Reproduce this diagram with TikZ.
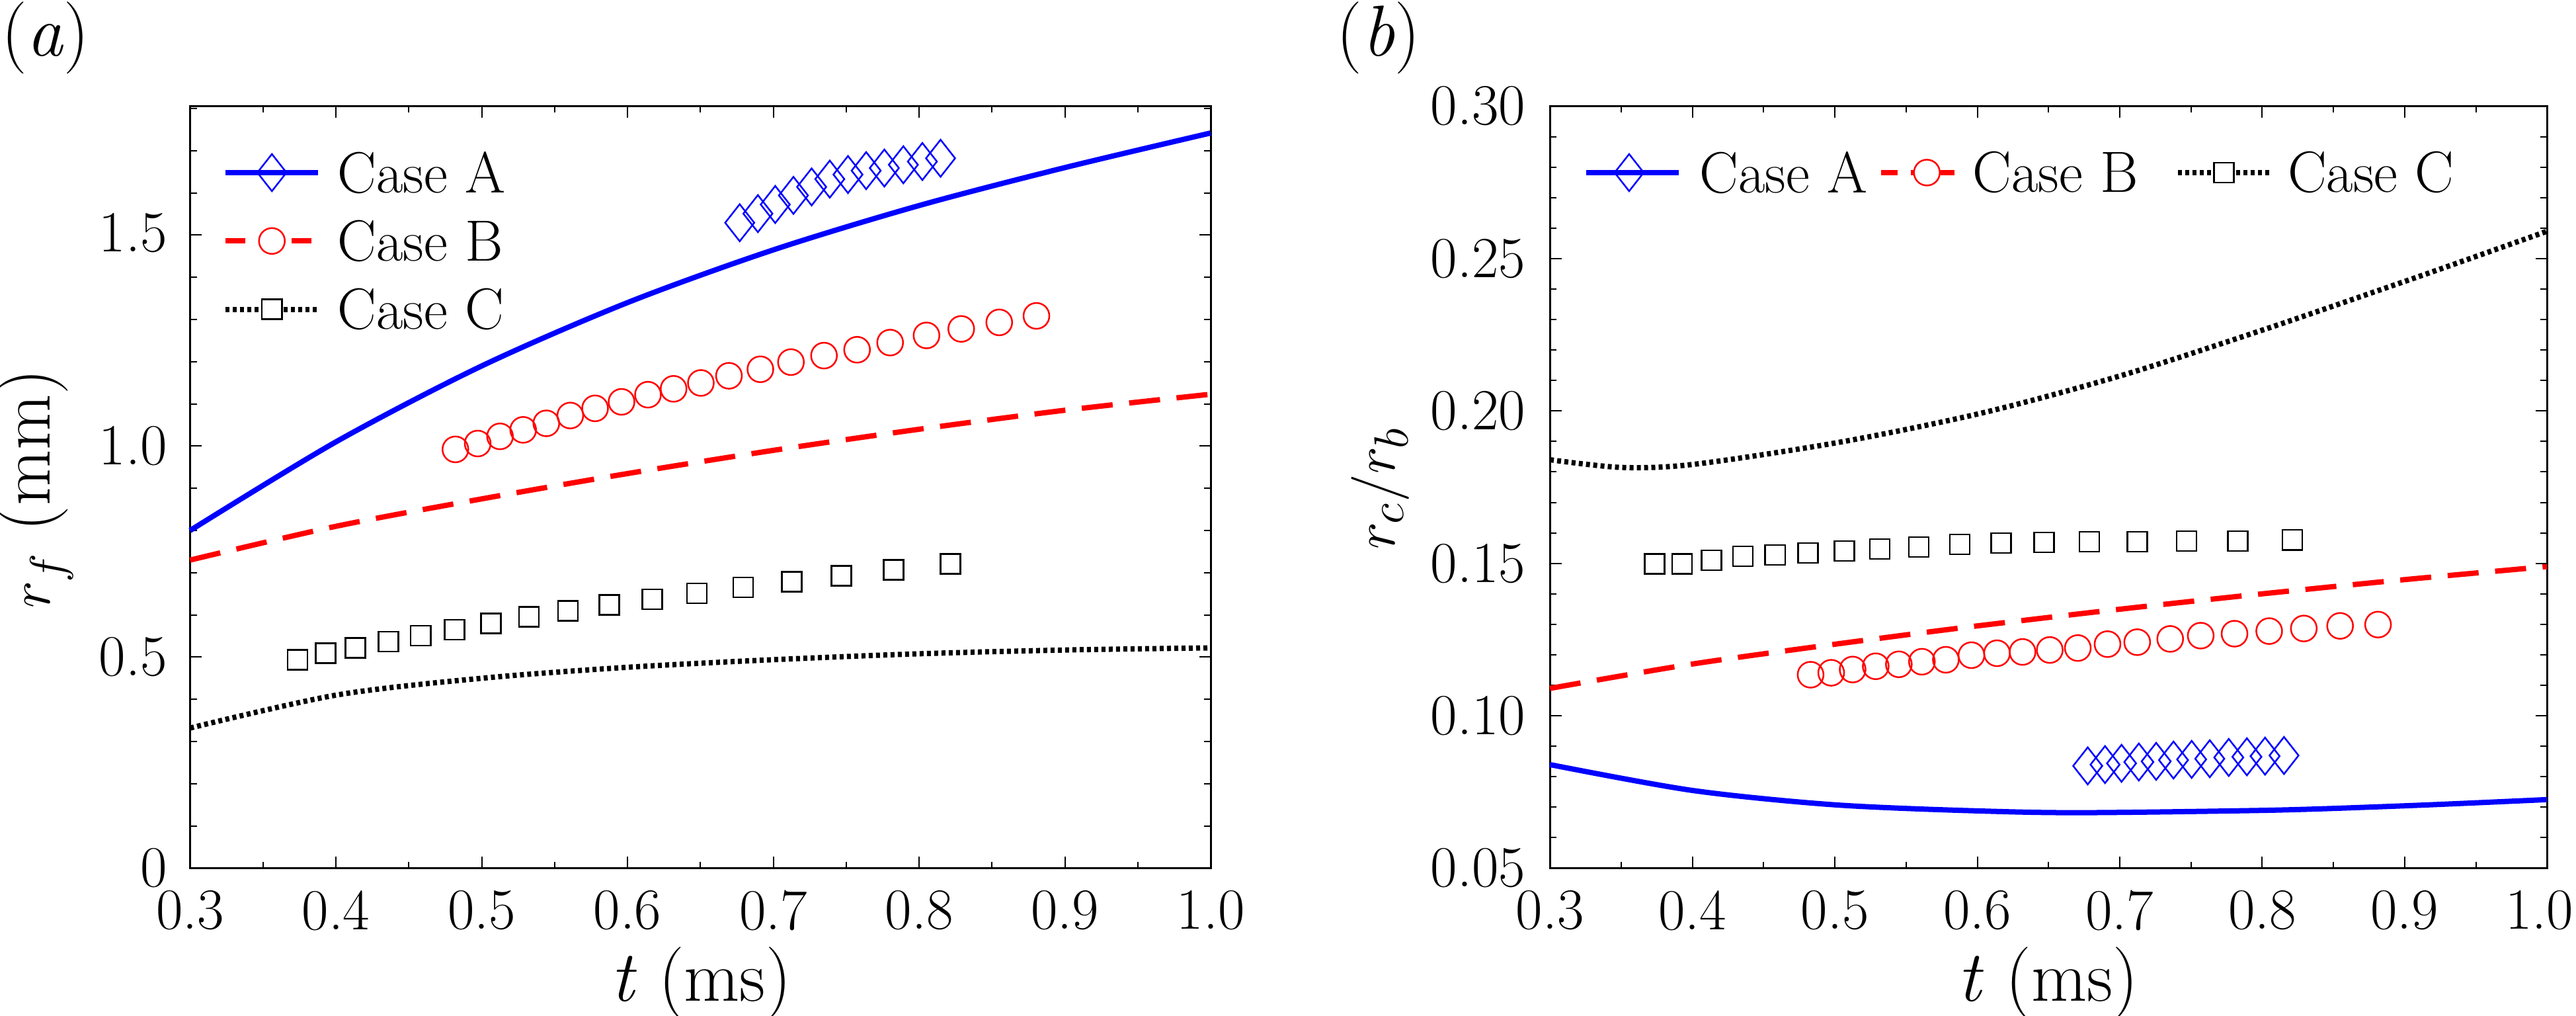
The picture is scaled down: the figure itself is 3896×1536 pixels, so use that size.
\documentclass[tikz,border=0pt]{standalone}
\usetikzlibrary{shapes.geometric}
\begin{document}
\begin{tikzpicture}[x=0.01cm,y=-0.01cm,
  tick/.style={font=\fontsize{25}{28}\selectfont},
  lab/.style={font=\fontsize{31}{34}\selectfont},
  leg/.style={font=\fontsize{25}{28}\selectfont,anchor=west,inner sep=0pt},
  frame/.style={line width=0.028cm},
  tk/.style={line width=0.02cm},
  cA/.style={line width=0.08cm,color=blue},
  cB/.style={line width=0.08cm,color=red,dash pattern=on 0.47cm off 0.25cm},
  cC/.style={line width=0.08cm,color=black,dash pattern=on 0.06cm off 0.05cm},
  mA/.style={draw=blue,line width=0.025cm,diamond,minimum width=0.45cm,minimum height=0.57cm,inner sep=0pt,aspect=0.8},
  mB/.style={draw=red,line width=0.025cm,circle,minimum size=0.39cm,inner sep=0pt},
  mC/.style={draw=black,line width=0.025cm,rectangle,minimum size=0.3cm,inner sep=0pt}]
\useasboundingbox (0,0) rectangle (3896,1536);
% ================= Panel (a) =================
\begin{scope}[xscale=1.25,yscale=0.9846]
  \node[lab] (la) at (55,58) {(\textit{a})};
  \draw[frame] (230,163) rectangle (1465,1333);
  \foreach \i in {0,...,14}{
    \pgfmathsetmacro\xx{230+\i*88.2}
    \pgfmathsetmacro\L{ifthenelse(mod(\i,2)==0,18,10)}
    \draw[tk] (\xx,1333) -- ++(0,-\L);
    \draw[tk] (\xx,163) -- ++(0,\L);}
  \foreach \j in {0,...,18}{
    \pgfmathsetmacro\yy{1333-\j*64.8}
    \pgfmathsetmacro\L{ifthenelse(mod(\j,5)==0,14,8)}
    \draw[tk] (230,\yy) -- ++(\L,0);
    \draw[tk] (1465,\yy) -- ++(-\L,0);}
  \foreach \t [count=\k from 0] in {0.3,0.4,0.5,0.6,0.7,0.8,0.9,1.0}
    \node[tick] (ax\k) at ({230+\k*176.4},1398) {\t};
  \node[tick,anchor=east] (ay0) at (212,1333) {0};
  \node[tick,anchor=east] (ay1) at (212,1009) {0.5};
  \node[tick,anchor=east] (ay2) at (212,685) {1.0};
  \node[tick,anchor=east] (ay3) at (212,358) {1.5};
  \node[lab] (xla) at (848,1510) {\textit{t} (ms)};
  \node[lab,rotate=90,inner sep=0pt] (yla) at (42,750) {$r_f$ (mm)};
  \begin{scope}[shift={(-299.2,1333)},xscale=1764,yscale=-648]
    \draw[cA] plot[smooth] coordinates {(0.3,0.80)(0.4,1.01)(0.5,1.19)(0.6,1.34)(0.7,1.465)(0.8,1.57)(0.9,1.66)(1.0,1.742)};
    \draw[cB] plot[smooth] coordinates {(0.3,0.73)(0.4,0.81)(0.5,0.875)(0.6,0.935)(0.7,0.99)(0.8,1.04)(0.9,1.085)(1.0,1.123)};
    \draw[cC] plot[smooth] coordinates {(0.3,0.332)(0.4,0.410)(0.5,0.450)(0.6,0.476)(0.7,0.494)(0.8,0.508)(0.9,0.517)(1.0,0.522)};
  \end{scope}
  \foreach \x/\y in {895/342,917/328,938/314,960/300,982/287,1004/275,1026/268,1048/262,1070/258,1093/253,1116/248,1138/243}
    \node[mA] at (\x,\y) {};
  \foreach \x/\y in {551/690,578/681,605/670,633/660,661/650,690/638,720/627,752/617,784/606,815/597,848/588,882/577,920/567,957/556,997/546,1037/537,1077/526,1121/515,1163/505,1209/495,1254/485}
    \node[mB] at (\x,\y) {};
  \foreach \x/\y in {360/1013,394/1003,430/995,470/985,509/976,550/967,594/957,640/947,687/938,737/929,789/920,843/911,899/902,958/893,1018/884,1081/875,1150/866}
    \node[mC] at (\x,\y) {};
  % legend
  \coordinate (aA1) at (273,265); \coordinate (aA2) at (385,265);
  \coordinate (aB1) at (273,370); \coordinate (aB2) at (385,370);
  \coordinate (aC1) at (273,475); \coordinate (aC2) at (385,475);
  \draw[cA] (aA1) -- (aA2); \node[mA] (aAm) at (329,265) {};
  \draw[cB,dash pattern=on 0.3cm off 0.2cm] (aB1) -- (aB2); \node[mB,fill=white] (aBm) at (329,370) {};
  \draw[cC] (aC1) -- (aC2); \node[mC,fill=white] (aCm) at (329,475) {};
  \node[leg] (aAt) at (408,265) {Case A};
  \node[leg] (aBt) at (408,370) {Case B};
  \node[leg] (aCt) at (408,475) {Case C};
\end{scope}
% ================= Panel (b) =================
\begin{scope}[shift={(1950,0)},xscale=1.2474,yscale=0.9846]
  \node[lab] (lb) at (108,58) {(\textit{b})};
  \draw[frame] (316,163) rectangle (1525,1333);
  \foreach \i in {0,...,14}{
    \pgfmathsetmacro\xx{316+\i*86.36}
    \pgfmathsetmacro\L{ifthenelse(mod(\i,2)==0,18,10)}
    \draw[tk] (\xx,1333) -- ++(0,-\L);
    \draw[tk] (\xx,163) -- ++(0,\L);}
  \foreach \j in {0,...,25}{
    \pgfmathsetmacro\yy{1333-\j*46.8}
    \pgfmathsetmacro\L{ifthenelse(mod(\j,5)==0,14,8)}
    \draw[tk] (316,\yy) -- ++(\L,0);
    \draw[tk] (1525,\yy) -- ++(-\L,0);}
  \foreach \t [count=\k from 0] in {0.3,0.4,0.5,0.6,0.7,0.8,0.9}
    \node[tick] (bx\k) at ({316+\k*172.7},1398) {\t};
  \node[tick,anchor=east,inner sep=1pt] (bx7) at (1560,1398) {1.0};
  \foreach \v [count=\k from 0] in {0.05,0.10,0.15,0.20,0.25,0.30}
    \node[tick,anchor=east] (by\k) at (296,{1333-\k*234}) {\v};
  \node[lab] (xlb) at (920,1510) {\textit{t} (ms)};
  \node[lab,rotate=90] (ylb) at (110,750) {$r_c/r_b$};
  \begin{scope}[shift={(-202.1,1567)},xscale=1727,yscale=-4680]
    \draw[cA] plot[smooth] coordinates {(0.3,0.084)(0.4,0.0755)(0.5,0.0708)(0.6,0.0688)(0.67,0.0682)(0.8,0.0690)(0.9,0.0705)(1.0,0.0725)};
    \draw[cB] plot[smooth] coordinates {(0.3,0.109)(0.4,0.117)(0.5,0.1235)(0.6,0.1295)(0.7,0.135)(0.8,0.140)(0.9,0.1447)(1.0,0.149)};
    \draw[cC] plot[smooth] coordinates {(0.3,0.184)(0.35,0.1815)(0.4,0.1825)(0.5,0.1895)(0.6,0.199)(0.7,0.2115)(0.8,0.2265)(0.9,0.2425)(1.0,0.259)};
  \end{scope}
  \foreach \x/\y in {968/1176,989/1174,1009/1172,1030/1170,1051/1169,1072/1167,1094/1166,1116/1165,1139/1163,1161/1162,1183/1161,1206/1160}
    \node[mA] at (\x,\y) {};
  \foreach \x/\y in {632/1036,657/1033,683/1028,711/1023,739/1020,767/1016,796/1013,827/1006,858/1003,889/1001,922/998,956/995,992/989,1028/986,1068/981,1105/976,1146/973,1188/969,1230/965,1274/961,1320/959}
    \node[mB] at (\x,\y) {};
  \foreach \x/\y in {443/866,476/866,512/860,550/854,589/852,629/849,673/846,716/843,763/840,813/836,863/834,915/833,970/832,1028/832,1088/831,1150/831,1216/829}
    \node[mC] at (\x,\y) {};
  % legend
  \coordinate (bA1) at (360,265); \coordinate (bA2) at (472,265);
  \coordinate (bB1) at (717,265); \coordinate (bB2) at (806,265);
  \coordinate (bC1) at (1077,265); \coordinate (bC2) at (1190,265);
  \draw[cA] (bA1) -- (bA2); \node[mA] (bAm) at (412,265) {};
  \draw[cB,dash pattern=on 0.25cm off 0.2cm] (bB1) -- (bB2); \node[mB,fill=white] (bBm) at (773,265) {};
  \draw[cC] (bC1) -- (bC2); \node[mC,fill=white] (bCm) at (1133,265) {};
  \node[leg] (bAt) at (497,265) {Case A};
  \node[leg] (bBt) at (828,265) {Case B};
  \node[leg] (bCt) at (1210,265) {Case C};
\end{scope}
\end{tikzpicture}
\end{document}
